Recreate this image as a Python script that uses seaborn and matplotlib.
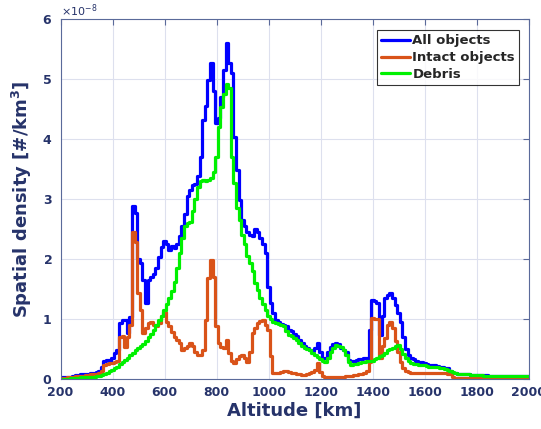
import numpy as np
import pandas as pd
import matplotlib
matplotlib.use("Agg")
import matplotlib.pyplot as plt
import seaborn as sns
from matplotlib.ticker import ScalarFormatter

# Altitude bins [km]
altitude = list(range(200, 2010, 10))

# Spatial density values in units of 1e-8 #/km^3
all_objects = [
    0.03, 0.03, 0.03, 0.04, 0.04, 0.06, 0.07, 0.07, 0.08, 0.08,   # 200-290
    0.09, 0.09, 0.10, 0.10, 0.12, 0.14, 0.21, 0.30, 0.32, 0.30,   # 300-390
    0.36, 0.43, 0.48, 0.93, 0.98, 0.99, 0.77, 1.04, 2.88, 2.77,   # 400-490
    2.00, 1.93, 1.66, 1.27, 1.66, 1.71, 1.75, 1.85, 2.04, 2.20,   # 500-590
    2.30, 2.25, 2.15, 2.22, 2.18, 2.25, 2.38, 2.55, 2.75, 3.05,   # 600-690
    3.15, 3.24, 3.25, 3.38, 3.71, 4.32, 4.55, 4.99, 5.27, 4.80,   # 700-790
    4.27, 4.35, 4.70, 5.15, 5.60, 5.27, 5.10, 4.04, 3.49, 2.99,   # 800-890
    2.65, 2.55, 2.45, 2.40, 2.38, 2.50, 2.45, 2.35, 2.25, 2.10,   # 900-990
    1.54, 1.27, 1.10, 0.99, 0.95, 0.92, 0.90, 0.88, 0.82, 0.80,   # 1000-1090
    0.76, 0.72, 0.65, 0.60, 0.56, 0.52, 0.49, 0.47, 0.52, 0.60,   # 1100-1190
    0.45, 0.35, 0.36, 0.45, 0.54, 0.58, 0.60, 0.58, 0.52, 0.49,   # 1200-1290
    0.45, 0.32, 0.30, 0.31, 0.32, 0.33, 0.34, 0.35, 0.36, 0.82,   # 1300-1390
    1.32, 1.30, 1.27, 0.74, 1.05, 1.35, 1.40, 1.43, 1.35, 1.24,   # 1400-1490
    1.10, 0.95, 0.70, 0.50, 0.40, 0.36, 0.33, 0.30, 0.29, 0.28,   # 1500-1590
    0.27, 0.25, 0.24, 0.24, 0.23, 0.22, 0.21, 0.20, 0.19, 0.18,   # 1600-1690
    0.14, 0.11, 0.10, 0.09, 0.09, 0.08, 0.08, 0.08, 0.07, 0.07,   # 1700-1790
    0.07, 0.07, 0.07, 0.07, 0.07, 0.06, 0.06, 0.06, 0.06, 0.06,   # 1800-1890
    0.06, 0.06, 0.06, 0.06, 0.05, 0.05, 0.05, 0.05, 0.05, 0.05,   # 1900-1990
    0.05,                                                         # 2000
]

intact_objects = [
    0.02, 0.02, 0.02, 0.03, 0.03, 0.04, 0.05, 0.05, 0.06, 0.06,   # 200-290
    0.07, 0.07, 0.08, 0.08, 0.09, 0.10, 0.13, 0.24, 0.25, 0.27,   # 300-390
    0.27, 0.28, 0.30, 0.71, 0.72, 0.54, 0.71, 0.90, 2.46, 2.29,   # 400-490
    1.43, 1.15, 0.77, 0.85, 0.93, 0.95, 0.90, 0.88, 0.93, 1.05,   # 500-590
    1.12, 0.95, 0.88, 0.78, 0.71, 0.65, 0.60, 0.49, 0.52, 0.55,   # 600-690
    0.60, 0.56, 0.45, 0.40, 0.40, 0.49, 0.99, 1.68, 1.99, 1.71,   # 700-790
    0.88, 0.60, 0.54, 0.52, 0.66, 0.43, 0.30, 0.27, 0.33, 0.38,   # 800-890
    0.40, 0.35, 0.29, 0.45, 0.77, 0.85, 0.93, 0.97, 0.99, 0.90,   # 900-990
    0.82, 0.38, 0.10, 0.10, 0.11, 0.12, 0.13, 0.13, 0.12, 0.11,   # 1000-1090
    0.10, 0.09, 0.08, 0.07, 0.07, 0.08, 0.10, 0.12, 0.15, 0.27,   # 1100-1190
    0.12, 0.06, 0.04, 0.04, 0.03, 0.03, 0.03, 0.03, 0.04, 0.04,   # 1200-1290
    0.05, 0.05, 0.06, 0.07, 0.07, 0.08, 0.09, 0.10, 0.13, 0.29,   # 1300-1390
    1.02, 1.01, 1.00, 0.35, 0.55, 0.68, 0.90, 0.96, 0.85, 0.63,   # 1400-1490
    0.45, 0.29, 0.18, 0.14, 0.12, 0.11, 0.11, 0.10, 0.10, 0.10,   # 1500-1590
    0.10, 0.10, 0.10, 0.10, 0.10, 0.10, 0.10, 0.10, 0.10, 0.09,   # 1600-1690
    0.09, 0.03, 0.02, 0.02, 0.02, 0.02, 0.02, 0.02, 0.02, 0.02,   # 1700-1790
    0.02, 0.02, 0.02, 0.02, 0.02, 0.02, 0.02, 0.02, 0.02, 0.02,   # 1800-1890
    0.02, 0.02, 0.02, 0.02, 0.02, 0.02, 0.02, 0.02, 0.02, 0.02,   # 1900-1990
    0.02,                                                         # 2000
]

debris = [
    0.01, 0.01, 0.01, 0.01, 0.02, 0.02, 0.02, 0.02, 0.03, 0.03,   # 200-290
    0.03, 0.03, 0.04, 0.04, 0.05, 0.06, 0.07, 0.09, 0.11, 0.13,   # 300-390
    0.15, 0.18, 0.21, 0.25, 0.29, 0.32, 0.36, 0.40, 0.43, 0.48,   # 400-490
    0.52, 0.55, 0.58, 0.64, 0.70, 0.76, 0.82, 0.90, 0.98, 1.06,   # 500-590
    1.15, 1.25, 1.35, 1.47, 1.62, 1.85, 2.10, 2.35, 2.55, 2.60,   # 600-690
    2.62, 2.80, 3.00, 3.20, 3.30, 3.32, 3.30, 3.32, 3.35, 3.45,   # 700-790
    3.71, 4.21, 4.54, 4.75, 4.92, 4.85, 3.71, 3.27, 2.85, 2.65,   # 800-890
    2.40, 2.25, 2.05, 1.93, 1.80, 1.60, 1.48, 1.35, 1.25, 1.15,   # 900-990
    1.05, 1.00, 0.96, 0.93, 0.92, 0.90, 0.88, 0.80, 0.74, 0.72,   # 1000-1090
    0.68, 0.65, 0.60, 0.56, 0.52, 0.50, 0.48, 0.44, 0.40, 0.37,   # 1100-1190
    0.33, 0.30, 0.29, 0.35, 0.45, 0.52, 0.57, 0.56, 0.54, 0.48,   # 1200-1290
    0.40, 0.28, 0.24, 0.25, 0.26, 0.27, 0.28, 0.29, 0.30, 0.30,   # 1300-1390
    0.31, 0.33, 0.36, 0.39, 0.40, 0.44, 0.48, 0.50, 0.52, 0.55,   # 1400-1490
    0.57, 0.50, 0.42, 0.35, 0.30, 0.27, 0.26, 0.25, 0.24, 0.23,   # 1500-1590
    0.23, 0.22, 0.21, 0.21, 0.20, 0.20, 0.19, 0.18, 0.17, 0.16,   # 1600-1690
    0.14, 0.12, 0.10, 0.09, 0.09, 0.08, 0.08, 0.08, 0.07, 0.07,   # 1700-1790
    0.07, 0.07, 0.07, 0.06, 0.06, 0.06, 0.06, 0.06, 0.06, 0.06,   # 1800-1890
    0.05, 0.05, 0.05, 0.05, 0.05, 0.05, 0.05, 0.05, 0.05, 0.05,   # 1900-1990
    0.05,                                                         # 2000
]

series_names = ["All objects", "Intact objects", "Debris"]
series_colors = ["#0000ff", "#d95319", "#00f000"]
x_ticks = list(range(200, 2001, 200))
y_ticks = [0, 1, 2, 3, 4, 5, 6]

scale = 1e-8
frames = []
for name, vals in zip(series_names, [all_objects, intact_objects, debris]):
    frames.append(pd.DataFrame({"Altitude": altitude,
                                "Density": np.array(vals) * scale,
                                "Series": name}))
df = pd.concat(frames, ignore_index=True)

sns.set_style("white")
text_color = "#26336a"

fig = plt.figure(figsize=(5.41, 4.29), dpi=100)
ax = fig.add_axes([0.112, 0.116, 0.865, 0.839])

sns.lineplot(data=df, x="Altitude", y="Density", hue="Series",
             hue_order=series_names, palette=series_colors,
             drawstyle="steps-mid", linewidth=2.3, ax=ax, legend=True)

ax.set_xlim(200, 2000)
ax.set_ylim(0, 6 * scale)
ax.set_xticks(x_ticks)
ax.set_yticks([v * scale for v in y_ticks])

fmt = ScalarFormatter(useMathText=True)
fmt.set_powerlimits((-3, 3))
ax.yaxis.set_major_formatter(fmt)
ax.yaxis.get_offset_text().set_fontsize(8)
ax.yaxis.get_offset_text().set_color(text_color)

ax.grid(True, color="#dde0ee", linewidth=0.8)
ax.set_axisbelow(True)
for sp in ax.spines.values():
    sp.set_color("#5a6a9a")
    sp.set_linewidth(0.8)

ax.tick_params(direction="in", top=True, right=True, length=4,
               color="#5a6a9a", labelsize=9, labelcolor=text_color)
ax.tick_params(axis="x", pad=5)
ax.tick_params(axis="y", pad=6)
for lbl in ax.get_xticklabels() + ax.get_yticklabels():
    lbl.set_fontweight("bold")

ax.set_xlabel("Altitude [km]", fontsize=13, fontweight="bold", color=text_color, labelpad=2)
ax.set_ylabel("Spatial density [#/km$^\\mathbf{3}$]", fontsize=13, fontweight="bold",
              color=text_color, labelpad=6)

leg = ax.legend(loc="upper right", bbox_to_anchor=(0.985, 0.977),
                frameon=True, fancybox=False, edgecolor="black",
                handlelength=2.2, handletextpad=0.2, borderpad=0.3,
                labelspacing=0.3, borderaxespad=0.2,
                prop={"weight": "bold", "size": 9.5})
leg.get_frame().set_linewidth(0.8)
for line in leg.get_lines():
    line.set_linewidth(2.3)

fig.savefig("out.png", dpi=100)
